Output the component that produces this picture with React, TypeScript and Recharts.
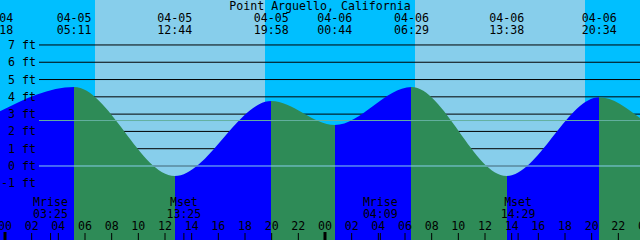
import {
    AreaChart,
    Area,
    XAxis,
    YAxis,
    CartesianGrid,
    ReferenceArea,
    ReferenceLine,
} from 'recharts';

const title = 'Point Arguello, California';

// high / low tide events
const eventDates = ['04-04', '04-05', '04-05', '04-05', '04-06', '04-06', '04-06', '04-06'];
const eventTimes = ['23:18', '05:11', '12:44', '19:58', '00:44', '06:29', '13:38', '20:34'];
const eventFeet = [3.04, 4.57, -0.58, 3.76, 2.37, 4.57, -0.58, 3.97];
const edgeFeet = 2.77; // level where the curve leaves the right edge

const sunrises = ['04-05 06:45', '04-06 06:45'];
const sunsets = ['04-05 19:30', '04-06 19:30'];

const moonDates = ['04-05', '04-05', '04-06', '04-06'];
const moonNames = ['Mrise', 'Mset', 'Mrise', 'Mset'];
const moonTimes = ['03:25', '13:25', '04:09', '14:29'];

const hourTicks = [0, 2, 4, 6, 8, 10, 12, 14, 16, 18, 20, 22, 24, 26, 28, 30, 32, 34, 36, 38, 40, 42, 44, 46, 48];
const feetTicks = [-1, 0, 1, 2, 3, 4, 5, 6, 7];
const meanFeet = 2.63;

const T0 = -0.375;
const T1 = 47.625;
const Y_MIN = -4.28;
const Y_MAX = 9.6;

const NIGHT = '#00BFFF';
const DAY = '#87CEEB';
const RISE = '#0000FF';
const FALL = '#2E8B57';
const FONT = '"DejaVu Sans Mono", monospace';
const FS = 11.6;

// hours since 04-05 00:00
const toHours = (date: string, time: string) => {
    const day = Number(date.slice(3));
    const [hh, mm] = time.split(':').map(Number);
    return (day - 5) * 24 + hh + mm / 60;
};
const stamp = (s: string) => toHours(s.slice(0, 5), s.slice(6));

const tide = [
    ...eventTimes.map((tm, i) => ({ t: toHours(eventDates[i], tm), ft: eventFeet[i] })),
    { t: T1, ft: edgeFeet },
];

const moonHours = moonTimes.map((tm, i) => toHours(moonDates[i], tm));
const bottomTicks = [...hourTicks, ...moonHours].sort((a, b) => a - b);

const tMin = tide[0].t;
const tMax = tide[tide.length - 1].t;
const stops: { off: number; color: string }[] = [];
for (let i = 0; i < tide.length - 1; i++) {
    const color = tide[i + 1].ft > tide[i].ft ? RISE : FALL;
    stops.push({ off: (tide[i].t - tMin) / (tMax - tMin), color });
    stops.push({ off: (tide[i + 1].t - tMin) / (tMax - tMin), color });
}

const gridStartT = T0 + ((T1 - T0) * 39) / 640;

const pad = (n: number) => String(n).padStart(2, '0');

const txt = { fontFamily: FONT, fontSize: FS, fill: '#000' };

const FeetTick = ({ y, payload }: any) => (
    <text x={36} y={y + 4} textAnchor="end" {...txt}>
        {payload.value} ft
    </text>
);

const BottomTick = ({ x, payload }: any) => {
    const h = payload.value as number;
    const m = moonHours.indexOf(h);
    if (m >= 0) {
        return (
            <g>
                <line x1={x} x2={x} y1={233} y2={240} stroke="#000" strokeWidth={1} />
                <text x={x} y={206} textAnchor="middle" {...txt}>
                    {moonNames[m]}
                </text>
                <text x={x} y={218} textAnchor="middle" {...txt}>
                    {moonTimes[m]}
                </text>
            </g>
        );
    }
    const midnight = h % 24 === 0;
    return (
        <g>
            <line x1={x} x2={x} y1={midnight ? 232 : 233} y2={240} stroke="#000" strokeWidth={midnight ? 3 : 1} />
            <text x={x} y={230} textAnchor="middle" {...txt}>
                {pad(h % 24)}
            </text>
        </g>
    );
};

const eventLabel = (i: number) => (props: any) => {
    const x = props.viewBox.x;
    return (
        <g>
            <text x={x} y={22} textAnchor="middle" {...txt}>
                {eventDates[i]}
            </text>
            <text x={x} y={34} textAnchor="middle" {...txt}>
                {eventTimes[i]}
            </text>
        </g>
    );
};

export default function App() {
    return (
        <div style={{ position: 'absolute', left: 0, top: 0, width: 640, height: 240, background: NIGHT }}>
            <AreaChart width={640} height={240} data={tide} margin={{ top: 0, right: 0, left: 0, bottom: 0 }}>
                <defs>
                    <linearGradient id="tideFill" x1="0" y1="0" x2="1" y2="0">
                        {stops.map((s, i) => (
                            <stop key={i} offset={s.off} stopColor={s.color} />
                        ))}
                    </linearGradient>
                </defs>
                {sunrises.map((sr, i) => (
                    <ReferenceArea
                        key={sr}
                        x1={stamp(sr)}
                        x2={stamp(sunsets[i])}
                        fill={DAY}
                        fillOpacity={1}
                        stroke="none"
                        zIndex={-300}
                    />
                ))}
                <CartesianGrid
                    x={39}
                    width={601}
                    vertical={false}
                    horizontalValues={feetTicks}
                    stroke="#000"
                    strokeOpacity={1}
                    zIndex={-200}
                />
                <Area
                    type="monotone"
                    dataKey="ft"
                    stroke="none"
                    fill="url(#tideFill)"
                    fillOpacity={1}
                    baseValue={Y_MIN}
                    isAnimationActive={false}
                />
                <ReferenceLine
                    segment={[{ x: gridStartT, y: meanFeet }, { x: T1, y: meanFeet }]}
                    stroke="#64B0A0"
                />
                <ReferenceLine segment={[{ x: gridStartT, y: 0 }, { x: T1, y: 0 }]} stroke={DAY} />
                {eventTimes.map((tm, i) => (
                    <ReferenceLine
                        key={i}
                        x={toHours(eventDates[i], tm)}
                        stroke="none"
                        ifOverflow="visible"
                        label={eventLabel(i)}
                    />
                ))}
                <XAxis
                    dataKey="t"
                    type="number"
                    domain={[T0, T1]}
                    allowDataOverflow
                    orientation="bottom"
                    mirror
                    ticks={bottomTicks}
                    interval={0}
                    axisLine={false}
                    tickLine={false}
                    tick={<BottomTick />}
                />
                <YAxis
                    type="number"
                    domain={[Y_MIN, Y_MAX]}
                    allowDataOverflow
                    mirror
                    ticks={feetTicks}
                    interval={0}
                    axisLine={false}
                    tickLine={false}
                    tick={<FeetTick />}
                />
                <text x={320} y={10} textAnchor="middle" {...txt}>
                    {title}
                </text>
            </AreaChart>
        </div>
    );
}
